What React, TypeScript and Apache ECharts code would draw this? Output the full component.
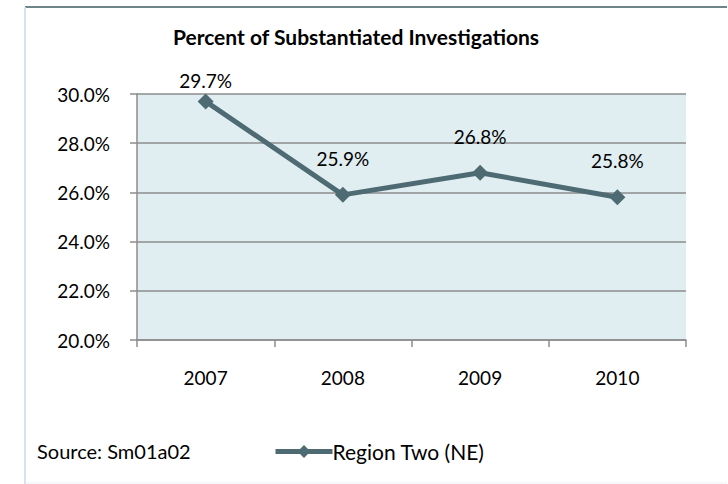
import React, { useEffect, useRef } from "react";
import * as echarts from "echarts";

const categories = ["2007", "2008", "2009", "2010"];
const values = [29.7, 25.9, 26.8, 25.8];
const labelDistances = [3, 19, 19, 19];
const seriesName = "Region Two (NE)";
const titleText = "Percent of Substantiated Investigations";
const sourceText = "Source: Sm01a02";

const FONT = "Lato, 'Open Sans', sans-serif";
const LINE_COLOR = "#4e6a72";
const NUM_SIZE = 19;
const TEXT_SIZE = 20;

export default function App() {
  const ref = useRef<HTMLDivElement>(null);
  useEffect(() => {
    if (!ref.current) return;
    const chart = echarts.init(ref.current, null, { renderer: "svg" });
    chart.setOption({
      animation: false,
      backgroundColor: "#ffffff",
      textStyle: { fontFamily: FONT },
      title: {
        text: titleText,
        left: 351,
        top: 21,
        textAlign: "center",
        textStyle: { fontFamily: FONT, fontSize: 21, fontWeight: "bold", color: "#000" },
      },
      legend: {
        left: 268,
        top: 436,
        itemWidth: 57,
        itemHeight: 16,
        itemGap: 0,
        lineStyle: { width: 5, color: LINE_COLOR },
        textStyle: { fontFamily: FONT, fontSize: 21, color: "#000", padding: [0, 0, 0, -5] },
        data: [seriesName],
      },
      grid: {
        left: 137,
        right: 42,
        top: 94,
        bottom: 144,
        show: true,
        backgroundColor: "#e0edf1",
        borderWidth: 0,
      },
      xAxis: {
        type: "category",
        data: categories,
        boundaryGap: true,
        axisLine: { lineStyle: { color: "#8c8c8c", width: 1.5 } },
        axisTick: { show: true, length: 7, lineStyle: { color: "#8c8c8c", width: 1.5 } },
        axisLabel: { margin: 28, fontFamily: FONT, fontSize: NUM_SIZE, color: "#000" },
      },
      yAxis: {
        type: "value",
        min: 20,
        max: 30,
        interval: 2,
        axisLine: { show: true, lineStyle: { color: "#8c8c8c", width: 1.5 } },
        axisTick: { show: true, length: 7, lineStyle: { color: "#8c8c8c", width: 1.5 } },
        splitLine: { lineStyle: { color: "#8c8c8c", width: 1.5 } },
        axisLabel: {
          margin: 27,
          fontFamily: FONT,
          fontSize: NUM_SIZE,
          color: "#000",
          formatter: (v: number) => v.toFixed(1) + "%",
        },
      },
      series: [
        {
          name: seriesName,
          type: "line",
          data: values.map((v, i) => ({
            value: v,
            label: { distance: labelDistances[i] },
          })),
          symbol: "diamond",
          symbolSize: 16,
          lineStyle: { color: LINE_COLOR, width: 5 },
          itemStyle: { color: LINE_COLOR },
          label: {
            show: true,
            position: "top",
            fontFamily: FONT,
            fontSize: NUM_SIZE,
            color: "#000",
            formatter: (p: any) => p.value.toFixed(1) + "%",
          },
        },
      ],
      graphic: [
        {
          type: "line",
          shape: { x1: 25, y1: 7, x2: 727, y2: 7 },
          style: { stroke: "#6d8489", lineWidth: 2 },
          silent: true,
        },
        {
          type: "line",
          shape: { x1: 726, y1: 7, x2: 726, y2: 484 },
          style: {
            lineWidth: 2,
            stroke: new echarts.graphic.LinearGradient(0, 0, 0, 1, [
              { offset: 0, color: "#6d8489" },
              { offset: 0.5, color: "#b8c4d4" },
              { offset: 1, color: "#dfe5f0" },
            ]),
          },
          silent: true,
        },
        {
          type: "line",
          shape: { x1: 25, y1: 7, x2: 25, y2: 484 },
          style: { stroke: "#d9e0ef", lineWidth: 2 },
          silent: true,
        },
        {
          type: "line",
          shape: { x1: 25, y1: 483, x2: 727, y2: 483 },
          style: { stroke: "#eceff5", lineWidth: 1 },
          silent: true,
        },
        {
          type: "text",
          left: 37,
          top: 441,
          style: { text: sourceText, fontFamily: FONT, fontSize: TEXT_SIZE, fill: "#000" },
        },
      ],
    });
    return () => chart.dispose();
  }, []);
  return (
    <div
      ref={ref}
      style={{ position: "fixed", left: 0, top: 0, width: 728, height: 484 }}
    />
  );
}
